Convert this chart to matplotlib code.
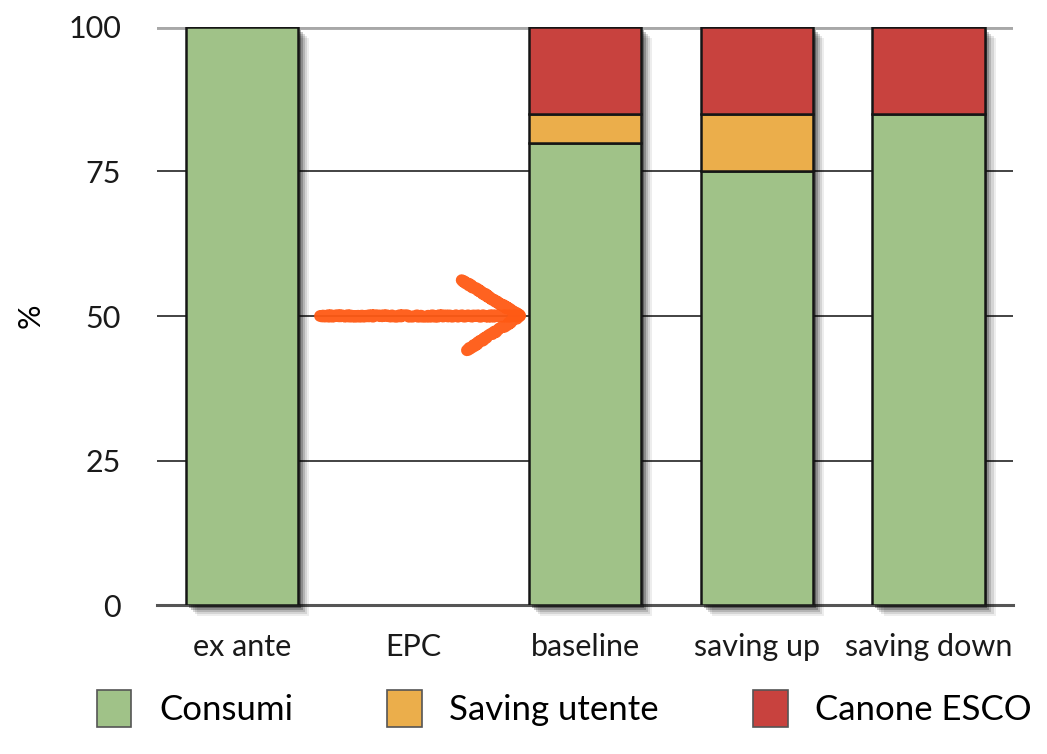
import matplotlib
matplotlib.use("Agg")
import matplotlib.pyplot as plt
import matplotlib.patheffects as pe
import numpy as np

# data
categories = ["ex ante", "EPC", "baseline", "saving up", "saving down"]
consumi = [100, 0, 80, 75, 85]
saving_utente = [0, 0, 5, 10, 0]
canone_esco = [0, 0, 15, 15, 15]
series_names = ["Consumi", "Saving utente", "Canone ESCO"]
yticks = [0, 25, 50, 75, 100]

# hand drawn arrow (x in category units, y in %)
arrow_shaft_x = [0.455, 1.62]
arrow_shaft_y = [50, 50]
arrow_head_x = [1.28, 1.62, 1.31]
arrow_head_y = [56.2, 50, 44.1]

colors = ["#a0c288", "#ebae4b", "#c8423e"]

plt.rcParams['font.family'] = ['Lato', 'DejaVu Sans']

fig = plt.figure(figsize=(10.47, 7.54), dpi=100)
ax = fig.add_axes([0.15, 0.1976, 0.8176, 0.7666])

x = np.arange(len(categories))
w = 0.653

totals = np.array(consumi) + np.array(saving_utente) + np.array(canone_esco)

# soft drop shadow behind each stack
shadow = [pe.SimplePatchShadow(offset=(o, -o), shadow_rgbFace='k', alpha=a)
          for o, a in [(8, 0.07), (6.5, 0.1), (5, 0.15), (3.5, 0.22), (2, 0.32)]]
sb = ax.bar(x, totals, w, color='white', edgecolor='none', zorder=2)
for b, t in zip(sb, totals):
    b.set_clip_on(False)
    if t > 0:
        b.set_path_effects(shadow + [pe.Normal()])
    else:
        b.set_visible(False)

bottom = np.zeros(len(categories))
for vals, col, name in zip([consumi, saving_utente, canone_esco], colors, series_names):
    vals = np.array(vals, dtype=float)
    bars = ax.bar(x, vals, w, bottom=bottom, color=col, edgecolor='#151515',
                  linewidth=1.8, label=name, zorder=3)
    for b, v in zip(bars, vals):
        if v <= 0:
            b.set_visible(False)
    bottom += vals

# gridlines
for t in yticks[1:-1]:
    ax.axhline(t, color='#222222', lw=1.2, zorder=1)
ax.axhline(100, color='#a8a8a8', lw=3.5, zorder=1)
ax.axhline(0, color='#555555', lw=2.2, zorder=1, clip_on=False)

# arrow
arrow_col = '#ff5a14'
for xs, ys in [(arrow_shaft_x, arrow_shaft_y), (arrow_head_x, arrow_head_y)]:
    ln, = ax.plot(xs, ys, color=arrow_col, lw=8.5, solid_capstyle='round',
                  solid_joinstyle='round', zorder=4, alpha=0.95)
    ln.set_sketch_params(scale=0.8, length=4, randomness=6)

ax.set_xlim(-0.495, 4.493)
ax.set_ylim(0, 100)
ax.set_xticks(x)
ax.set_xticklabels(categories, fontsize=22, color='#1a1a1a')
ax.set_yticks(yticks)
ax.set_yticklabels([str(t) for t in yticks], fontsize=22, color='#1a1a1a')
ax.tick_params(length=0)
ax.tick_params(axis='x', pad=20)
ax.tick_params(axis='y', pad=26)
for s in ax.spines.values():
    s.set_visible(False)
fig.text(0.029, 0.581, "%", fontsize=22, rotation=90, ha='center', va='center')

handles = [plt.Rectangle((0, 0), 1, 1, facecolor=c, edgecolor='#555555', lw=1.2) for c in colors]
fig.legend(handles, series_names, loc='center', bbox_to_anchor=(0.539, 0.06), ncol=3,
           frameon=False, fontsize=25, handlelength=1.0, handleheight=1.25,
           columnspacing=2.7, handletextpad=0.8)

fig.savefig("out.png", dpi=100)
